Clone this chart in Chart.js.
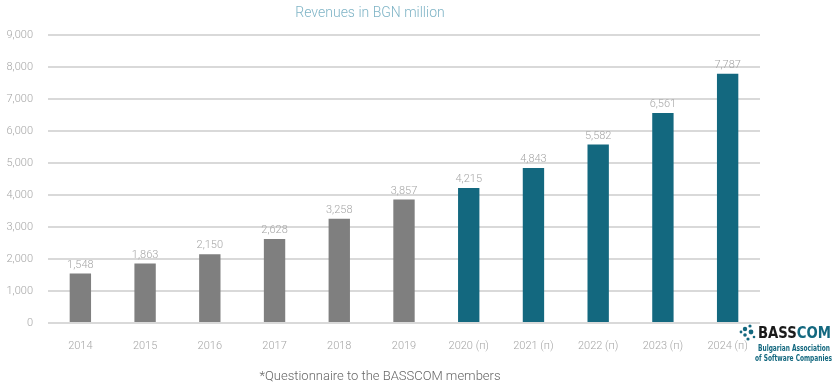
<!DOCTYPE html>
<html>
<head>
<meta charset="utf-8">
<script src="https://cdn.jsdelivr.net/npm/chart.js@4"></script>
<style>
  html, body { margin: 0; padding: 0; background: #fff; }
  #wrap { position: relative; width: 839px; height: 386px; }
</style>
</head>
<body>
<div id="wrap"><canvas id="barChart" width="839" height="386"></canvas></div>
<script>
const years = ['2014', '2015', '2016', '2017', '2018', '2019', '2020 (п)', '2021 (п)', '2022 (п)', '2023 (п)', '2024 (п)'];
const revenues = [1548, 1863, 2150, 2628, 3258, 3857, 4215, 4843, 5582, 6561, 7787];
const forecastFrom = 6;
const chartTitle = 'Revenues in BGN million';
const footnote = '*Questionnaire to the BASSCOM members';

const barColors = revenues.map((v, i) => i >= forecastFrom ? '#13687f' : '#7f7f7f');

// labels on top of bars, title, footnote and logo
const extrasPlugin = {
    id: 'extras',
    afterDatasetsDraw(chart) {
        const ctx = chart.ctx;
        const meta = chart.getDatasetMeta(0);
        ctx.save();
        ctx.font = '300 11px Roboto';
        ctx.fillStyle = '#a6a6a6';
        ctx.textAlign = 'center';
        ctx.textBaseline = 'bottom';
        meta.data.forEach((bar, i) => {
            ctx.fillText(revenues[i].toLocaleString('en-US'), bar.x, bar.y - 3);
        });
        ctx.restore();
    },
    afterDraw(chart) {
        const ctx = chart.ctx;
        ctx.save();
        ctx.textAlign = 'center';
        ctx.textBaseline = 'middle';
        ctx.font = '300 14px Roboto';
        ctx.fillStyle = '#7fb4c6';
        ctx.fillText(chartTitle, 370, 13);

        ctx.font = '300 13px Roboto';
        ctx.fillStyle = '#666666';
        ctx.fillText(footnote, 380, 377);

        // BASSCOM logo
        ctx.fillStyle = '#13687f';
        const dots = [[745, 329, 2.2], [750, 326, 1.6], [745, 335, 1.8], [751, 332, 2.4], [748, 339, 1.6], [741, 332, 1.4], [754, 337, 1.3]];
        dots.forEach(d => { ctx.beginPath(); ctx.arc(d[0], d[1], d[2], 0, Math.PI * 2); ctx.fill(); });
        ctx.textAlign = 'left';
        ctx.font = 'bold 15px "DejaVu Sans Condensed", "DejaVu Sans"';
        const full = ctx.measureText('BASSCOM').width;
        const k = Math.min(1, 73 / full);
        ctx.fillStyle = '#1a1a1a';
        ctx.fillText('BASS', 758, 334, ctx.measureText('BASS').width * k);
        const w = ctx.measureText('BASS').width * k;
        ctx.fillStyle = '#13687f';
        ctx.fillText('COM', 758 + w, 334, ctx.measureText('COM').width * k);
        ctx.font = 'bold 8px "DejaVu Sans Condensed", "DejaVu Sans"';
        ctx.fillText('Bulgarian Association', 758, 349, 72);
        ctx.fillText('of Software Companies', 755, 359, 77);
        ctx.restore();
    }
};

new Chart(document.getElementById('barChart').getContext('2d'), {
    type: 'bar',
    data: {
        labels: years,
        datasets: [{
            label: chartTitle,
            data: revenues,
            backgroundColor: barColors,
            barPercentage: 0.66,
            categoryPercentage: 0.5
        }]
    },
    options: {
        responsive: false,
        animation: false,
        layout: { padding: { left: 0, right: 79, top: 35, bottom: 0 } },
        plugins: {
            legend: { display: false },
            tooltip: { enabled: false },
            title: { display: false }
        },
        scales: {
            x: {
                grid: { display: false },
                border: { display: false },
                ticks: {
                    color: '#a6a6a6',
                    font: { family: 'Roboto', weight: '300', size: 11 },
                    padding: 9,
                    maxRotation: 0,
                    autoSkip: false
                },
                afterFit(scale) { scale.height = 63; }
            },
            y: {
                min: 0,
                max: 9000,
                border: { display: false },
                grid: { color: '#d9d9d9', lineWidth: 2, drawTicks: false },
                ticks: {
                    stepSize: 1000,
                    color: '#a6a6a6',
                    font: { family: 'Roboto', weight: '300', size: 11 },
                    padding: 15,
                    callback: v => v.toLocaleString('en-US')
                },
                afterFit(scale) { scale.width = 48; }
            }
        }
    },
    plugins: [extrasPlugin]
});
</script>
</body>
</html>
